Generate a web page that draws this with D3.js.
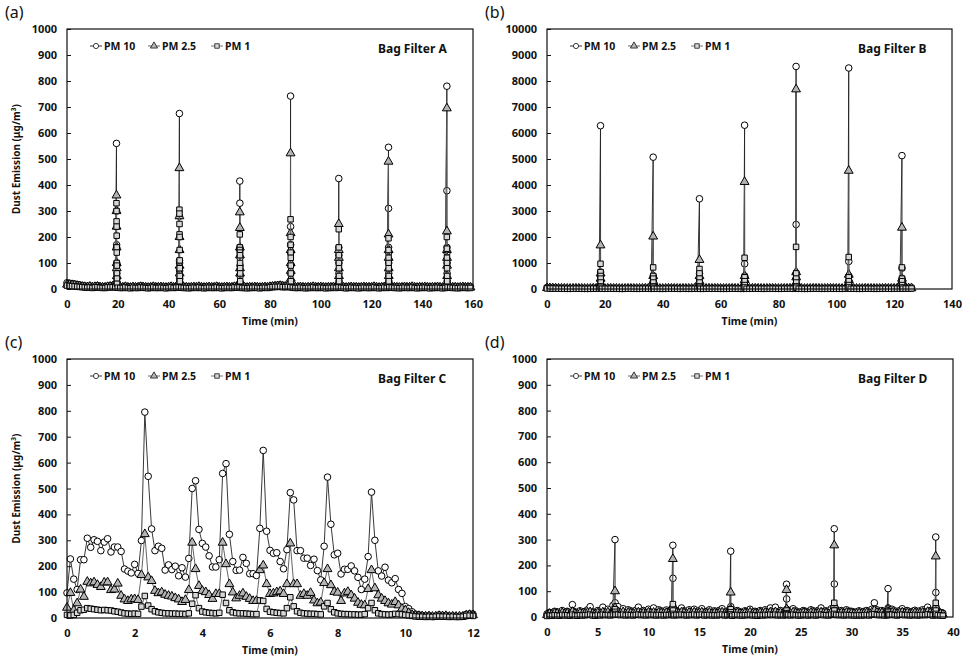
<!DOCTYPE html>
<html>
<head>
<meta charset="utf-8">
<script src="https://cdnjs.cloudflare.com/ajax/libs/d3/7.8.5/d3.min.js"></script>
<style>
  body { margin: 0; background: #fff; }
  text { font-family: "Noto Sans", sans-serif; fill: #111; }
</style>
</head>
<body>
<script>
// ---------- shared labels / ticks ----------
const seriesNames = ["PM 10", "PM 2.5", "PM 1"];
const xTicksA = [0, 20, 40, 60, 80, 100, 120, 140, 160];
const xTicksB = [0, 20, 40, 60, 80, 100, 120, 140];
const xTicksC = [0, 2, 4, 6, 8, 10, 12];
const xTicksD = [0, 5, 10, 15, 20, 25, 30, 35, 40];
const yTicks1000 = [0, 100, 200, 300, 400, 500, 600, 700, 800, 900, 1000];
const yTicks10000 = [0, 1000, 2000, 3000, 4000, 5000, 6000, 7000, 8000, 9000, 10000];

// ---------- Bag Filter A (baseline every 1 min + cleaning pulses) ----------
const stepA = 1;
const pm10BaseA = [24, 22, 21, 19, 17, 15, 13, 11, 10, 12, 9, 11, 13, 10, 8, 9, 11, 12, 14, 12,
  10, 9, 8, 11, 9, 7, 10, 8, 9, 12, 10, 8, 7, 9, 11, 8, 9, 10, 8, 7,
  9, 11, 8, 10, 12, 10, 8, 9, 7, 8, 10, 9, 11, 8, 7, 9, 10, 8, 9, 11,
  8, 7, 9, 10, 8, 9, 11, 10, 12, 9, 8, 7, 9, 8, 10, 9, 7, 8, 10, 9,
  11, 12, 14, 15, 16, 14, 13, 15, 12, 10, 9, 8, 10, 9, 7, 8, 9, 11, 8, 9,
  10, 8, 7, 9, 8, 10, 9, 11, 10, 8, 7, 9, 10, 8, 9, 7, 8, 10, 9, 8,
  9, 11, 8, 7, 9, 10, 8, 12, 10, 9, 8, 7, 9, 10, 8, 9, 11, 8, 7, 9,
  8, 10, 9, 7, 8, 9, 10, 8, 7, 9, 11, 10, 8, 9, 7, 8, 10, 9, 8, 9];
const pm25BaseA = [17, 16, 15, 14, 12, 11, 9, 8, 7, 9, 6, 8, 9, 7, 6, 6, 8, 9, 10, 9,
  7, 6, 6, 8, 6, 5, 7, 6, 6, 8, 7, 6, 5, 6, 8, 6, 6, 7, 6, 5,
  6, 8, 6, 7, 8, 7, 6, 6, 5, 6, 7, 6, 8, 6, 5, 6, 7, 6, 6, 8,
  6, 5, 6, 7, 6, 6, 8, 7, 8, 6, 6, 5, 6, 6, 7, 6, 5, 6, 7, 6,
  8, 9, 10, 11, 12, 10, 9, 11, 9, 7, 6, 6, 7, 6, 5, 6, 6, 8, 6, 6,
  7, 6, 5, 6, 6, 7, 6, 8, 7, 6, 5, 6, 7, 6, 6, 5, 6, 7, 6, 6,
  6, 8, 6, 5, 6, 7, 6, 8, 7, 6, 6, 5, 6, 7, 6, 6, 8, 6, 5, 6,
  6, 7, 6, 5, 6, 6, 7, 6, 5, 6, 8, 7, 6, 6, 5, 6, 7, 6, 6, 6];
const pm1BaseA = [13, 12, 11, 10, 9, 8, 7, 6, 5, 6, 4, 6, 7, 5, 4, 4, 6, 6, 7, 6,
  5, 4, 4, 6, 4, 3, 5, 4, 4, 6, 5, 4, 3, 4, 6, 4, 4, 5, 4, 3,
  4, 6, 4, 5, 6, 5, 4, 4, 3, 4, 5, 4, 6, 4, 3, 4, 5, 4, 4, 6,
  4, 3, 4, 5, 4, 4, 6, 5, 6, 4, 4, 3, 4, 4, 5, 4, 3, 4, 5, 4,
  6, 7, 8, 8, 9, 7, 7, 8, 7, 5, 4, 4, 5, 4, 3, 4, 4, 6, 4, 4,
  5, 4, 3, 4, 4, 5, 4, 6, 5, 4, 3, 4, 5, 4, 4, 3, 4, 5, 4, 4,
  4, 6, 4, 3, 4, 5, 4, 6, 5, 4, 4, 3, 4, 5, 4, 4, 6, 4, 3, 4,
  4, 5, 4, 3, 4, 4, 5, 4, 3, 4, 6, 5, 4, 4, 3, 4, 5, 4, 4, 4];
const spikeTimesA = [19.5, 44.3, 68.1, 88.1, 107.1, 126.7, 149.7];
const pm10SpikesA = [
  [560, 300, 170, 160, 100, 90, 60, 40, 25],
  [675, 280, 110, 100, 70, 40, 25],
  [415, 330, 160, 150, 120, 90, 50, 25],
  [742, 240, 170, 140, 90, 60, 30],
  [425, 160, 130, 100, 60, 30],
  [545, 310, 160, 140, 100, 60, 30],
  [780, 378, 160, 140, 100, 60, 30]];
const pm25SpikesA = [
  [360, 300, 240, 160, 100, 80, 50, 30],
  [465, 280, 200, 150, 90, 60, 30],
  [295, 235, 160, 130, 80, 60, 30],
  [522, 215, 150, 100, 70, 40],
  [250, 150, 120, 80, 50, 25],
  [490, 210, 150, 120, 80, 50, 25],
  [695, 222, 150, 120, 90, 50, 25]];
const pm1SpikesA = [
  [330, 300, 260, 240, 205, 160, 140, 100, 90, 60, 40, 20],
  [305, 290, 250, 210, 200, 150, 110, 80, 50, 30],
  [210, 160, 150, 140, 130, 100, 80, 60, 30],
  [268, 200, 170, 140, 120, 90, 60, 30],
  [230, 160, 130, 100, 80, 50, 30],
  [195, 150, 120, 100, 80, 50, 30],
  [200, 155, 120, 100, 80, 50, 30]];

// ---------- Bag Filter B ----------
const stepB = 1;
const pm10BaseB = [60, 52, 45, 38, 32, 28, 26, 22, 21, 25, 30, 27, 24, 20, 19, 23, 35, 29, 27, 25,
  22, 26, 31, 28, 26, 21, 18, 22, 29, 26, 24, 20, 22, 27, 33, 28, 21, 23, 26, 20,
  19, 24, 31, 27, 28, 22, 19, 25, 24, 21, 23, 28, 25, 21, 21, 26, 30, 24, 28, 26,
  23, 20, 21, 24, 30, 26, 24, 20, 19, 23, 25, 30, 32, 28, 22, 19, 24, 27, 29, 24,
  20, 23, 26, 28, 31, 24, 27, 25, 23, 19, 21, 24, 29, 27, 26, 21, 22, 25, 31, 26,
  24, 22, 20, 25, 29, 26, 27, 23, 20, 22, 29, 25, 24, 21, 20, 23, 27, 30, 27, 24,
  31, 29, 27, 33, 40, 46, 50];
const pm25BaseB = [38, 33, 28, 24, 20, 18, 16, 14, 13, 16, 19, 17, 15, 12, 12, 14, 22, 18, 17, 16,
  14, 16, 19, 17, 16, 13, 11, 14, 18, 16, 15, 12, 14, 17, 20, 17, 13, 14, 16, 12,
  12, 15, 19, 17, 17, 14, 12, 16, 15, 13, 14, 17, 16, 13, 13, 16, 19, 15, 17, 16,
  14, 12, 13, 15, 19, 16, 15, 12, 12, 14, 16, 19, 20, 17, 14, 12, 15, 17, 18, 15,
  12, 14, 16, 17, 19, 15, 17, 16, 14, 12, 13, 15, 18, 17, 16, 13, 14, 16, 19, 16,
  15, 14, 12, 16, 18, 16, 17, 14, 12, 14, 18, 16, 15, 13, 12, 14, 17, 19, 17, 15,
  19, 18, 17, 20, 25, 29, 31];
const pm1BaseB = [24, 21, 18, 15, 13, 11, 10, 9, 8, 10, 12, 11, 10, 8, 8, 9, 14, 12, 11, 10,
  9, 10, 12, 11, 10, 8, 7, 9, 12, 10, 10, 8, 9, 11, 13, 11, 8, 9, 10, 8,
  8, 10, 12, 11, 11, 9, 8, 10, 10, 8, 9, 11, 10, 8, 8, 10, 12, 10, 11, 10,
  9, 8, 8, 10, 12, 10, 10, 8, 8, 9, 10, 12, 13, 11, 9, 8, 10, 11, 12, 10,
  8, 9, 10, 11, 12, 10, 11, 10, 9, 8, 8, 10, 12, 11, 10, 8, 9, 10, 12, 10,
  10, 9, 8, 10, 12, 10, 11, 9, 8, 9, 12, 10, 10, 8, 8, 9, 11, 12, 11, 10,
  12, 12, 11, 13, 16, 18, 20];
const spikeTimesB = [18.5, 36.7, 52.7, 68.3, 86.1, 104.3, 122.7];
const pm10SpikesB = [
  [6280, 650, 500, 300, 150, 60],
  [5070, 500, 300, 150, 60],
  [3470, 600, 400, 200, 80],
  [6300, 970, 500, 300, 150, 60],
  [8560, 2480, 600, 400, 200, 80],
  [8500, 1060, 500, 300, 150, 60],
  [5130, 800, 400, 250, 120, 50]];
const pm25SpikesB = [
  [1680, 600, 400, 200, 80],
  [2020, 500, 300, 150, 60],
  [1120, 500, 300, 150, 60],
  [4120, 500, 350, 200, 80],
  [7680, 650, 450, 250, 100],
  [4550, 550, 350, 200, 80],
  [2360, 400, 300, 150, 60]];
const pm1SpikesB = [
  [970, 650, 500, 400, 250, 100, 50],
  [830, 500, 400, 250, 100, 50],
  [770, 600, 400, 250, 100, 50],
  [1200, 450, 300, 150, 60],
  [1620, 600, 400, 250, 100, 50],
  [1230, 450, 300, 150, 60],
  [830, 400, 300, 150, 60]];

// ---------- Bag Filter C (one reading every 0.1 min) ----------
const stepC = 0.1;
const pm10C = [97, 228, 150, 110, 225, 225, 308, 273, 302, 296,
  260, 293, 306, 255, 274, 274, 257, 189, 181, 174,
  207, 172, 299, 795, 547, 344, 260, 277, 269, 185,
  205, 187, 200, 163, 194, 158, 230, 500, 530, 342,
  288, 274, 240, 197, 197, 225, 558, 596, 323, 218,
  184, 185, 234, 211, 171, 171, 164, 346, 647, 335,
  261, 250, 252, 218, 190, 264, 484, 456, 260, 260,
  231, 231, 203, 227, 183, 147, 277, 544, 362, 244,
  250, 170, 188, 188, 201, 182, 157, 110, 150, 237,
  486, 300, 182, 162, 196, 146, 136, 152, 110, 95,
  44, 36, 24, 15, 12, 10, 8, 9, 6, 8,
  12, 9, 10, 7, 8, 6, 7, 8, 14, 16, 15];
const pm25C = [40, 97, 30, 57, 110, 82, 140, 134, 138, 128,
  120, 137, 138, 108, 110, 133, 86, 72, 66, 72,
  73, 70, 166, 324, 157, 143, 105, 96, 99, 90,
  86, 83, 77, 72, 62, 70, 108, 291, 189, 124,
  105, 100, 89, 74, 93, 93, 291, 208, 131, 99,
  76, 86, 95, 82, 74, 66, 66, 185, 203, 131,
  93, 95, 100, 103, 93, 131, 288, 131, 131, 86,
  93, 86, 97, 68, 57, 60, 135, 189, 127, 101,
  98, 66, 95, 101, 88, 75, 59, 51, 49, 112,
  185, 115, 88, 75, 66, 57, 52, 62, 49, 36,
  30, 20, 12, 9, 8, 7, 6, 7, 5, 6,
  8, 7, 8, 5, 6, 5, 6, 6, 10, 12, 11];
const pm1C = [12, 10, 12, 20, 30, 32, 38, 36, 34, 32,
  30, 31, 30, 29, 26, 24, 21, 18, 17, 16,
  17, 16, 44, 85, 48, 34, 26, 22, 20, 18,
  18, 17, 17, 16, 16, 15, 18, 55, 88, 38,
  25, 22, 20, 19, 18, 20, 90, 58, 30, 22,
  19, 18, 18, 17, 16, 15, 15, 68, 66, 35,
  24, 22, 20, 19, 18, 38, 80, 45, 26, 20,
  18, 17, 16, 16, 15, 14, 45, 58, 34, 22,
  18, 16, 15, 15, 14, 14, 13, 13, 15, 38,
  58, 30, 18, 15, 14, 13, 14, 16, 15, 14,
  12, 10, 8, 6, 5, 5, 4, 5, 4, 5,
  6, 5, 5, 4, 5, 4, 4, 5, 8, 9, 8];

// ---------- Bag Filter D (baseline every 0.25 min + pulses) ----------
const stepD = 0.25;
const pm10BaseD = [12, 18, 15, 22, 20, 14, 25, 18, 22, 16, 48, 20, 15, 24, 18, 22, 28, 40, 20, 17,
  25, 19, 38, 22, 30, 18, 45, 28, 40, 22, 32, 18, 28, 24, 20, 26, 38, 21, 25, 19,
  30, 22, 35, 18, 28, 24, 20, 27, 22, 30, 18, 25, 21, 35, 24, 19, 28, 22, 30, 20,
  25, 32, 19, 22, 28, 18, 24, 20, 26, 32, 19, 23, 28, 17, 22, 25, 20, 18, 24, 21,
  30, 19, 22, 17, 25, 20, 28, 22, 35, 24, 38, 20, 25, 18, 22, 26, 20, 32, 24, 19,
  20, 25, 22, 18, 28, 24, 20, 26, 35, 22, 24, 19, 32, 25, 28, 21, 25, 20, 28, 23,
  22, 18, 20, 24, 18, 22, 25, 20, 30, 55, 28, 22, 25, 20, 22, 26, 30, 24, 19, 25,
  32, 22, 25, 19, 22, 26, 20, 24, 28, 22, 38, 25, 20, 24, 22, 18, 15];
const pm25BaseD = [8, 12, 10, 14, 13, 9, 16, 12, 14, 10, 20, 13, 10, 15, 12, 14, 17, 19, 13, 11,
  16, 12, 18, 14, 18, 12, 20, 17, 19, 14, 19, 12, 17, 15, 13, 16, 18, 14, 16, 12,
  18, 14, 17, 12, 17, 15, 13, 16, 14, 18, 12, 16, 14, 18, 15, 12, 17, 14, 18, 13,
  16, 18, 12, 14, 17, 12, 15, 13, 16, 18, 12, 14, 17, 11, 14, 16, 13, 12, 15, 14,
  18, 12, 14, 11, 16, 13, 17, 14, 18, 15, 19, 13, 16, 12, 14, 16, 13, 18, 15, 12,
  13, 16, 14, 12, 17, 15, 13, 16, 18, 14, 15, 12, 18, 16, 17, 14, 16, 13, 17, 15,
  14, 12, 13, 15, 12, 14, 16, 13, 18, 25, 17, 14, 16, 13, 14, 16, 18, 15, 12, 16,
  18, 14, 16, 12, 14, 16, 13, 15, 17, 14, 20, 16, 13, 15, 14, 12, 10];
const pm1BaseD = [4, 6, 5, 7, 6, 5, 8, 6, 7, 5, 9, 6, 5, 7, 6, 7, 8, 9, 6, 5,
  8, 6, 9, 7, 8, 6, 9, 8, 9, 7, 9, 6, 8, 7, 6, 8, 9, 7, 8, 6,
  9, 7, 8, 6, 8, 7, 6, 8, 7, 9, 6, 8, 7, 9, 7, 6, 8, 7, 9, 6,
  8, 9, 6, 7, 8, 6, 7, 6, 8, 9, 6, 7, 8, 5, 7, 8, 6, 6, 7, 7,
  9, 6, 7, 5, 8, 6, 8, 7, 9, 7, 9, 6, 8, 6, 7, 8, 6, 9, 7, 6,
  6, 8, 7, 6, 8, 7, 6, 8, 9, 7, 7, 6, 9, 8, 8, 7, 8, 6, 8, 7,
  7, 6, 6, 7, 6, 7, 8, 6, 9, 11, 8, 7, 8, 6, 7, 8, 9, 7, 6, 8,
  9, 7, 8, 6, 7, 8, 6, 7, 8, 7, 10, 8, 6, 7, 7, 6, 5];
const spikeTimesD = [6.7, 12.4, 18.1, 23.6, 28.3, 33.6, 38.3];
const pm10SpikesD = [[300, 55, 40], [278, 150, 40], [255, 40, 25], [127, 70, 30],
  [342, 128, 40], [110, 35, 25], [310, 95, 40]];
const pm25SpikesD = [[100, 35, 20], [225, 40, 20], [95, 30, 15], [105, 30, 15],
  [278, 45, 20], [30, 20, 12], [235, 40, 20]];
const pm1SpikesD = [[30, 20, 12], [50, 25, 12], [30, 18, 10], [25, 15, 10],
  [55, 25, 12], [20, 12, 8], [55, 25, 12]];

// merges a regular baseline record with the short cleaning pulses
function buildSeries(step, base, spikeTimes, spikeVals, burstDt) {
  const pts = base.map((v, i) => ({ t: i * step, v: v }));
  if (spikeTimes) {
    spikeTimes.forEach((t0, k) => {
      spikeVals[k].forEach((v, j) => pts.push({ t: t0 + j * burstDt, v: v }));
    });
  }
  return pts.sort((a, b) => a.t - b.t);
}

const panels = [
  { letter: "(a)", name: "Bag Filter A", left: 67, top: 29, right: 473, bottom: 289,
    xMax: 160, xTicks: xTicksA, yMax: 1000, yTicks: yTicks1000, yTitle: true,
    series: [buildSeries(stepA, pm10BaseA, spikeTimesA, pm10SpikesA, 0.02),
             buildSeries(stepA, pm25BaseA, spikeTimesA, pm25SpikesA, 0.02),
             buildSeries(stepA, pm1BaseA, spikeTimesA, pm1SpikesA, 0.02)] },
  { letter: "(b)", name: "Bag Filter B", left: 547, top: 29, right: 952, bottom: 289,
    xMax: 140, xTicks: xTicksB, yMax: 10000, yTicks: yTicks10000, yTitle: false,
    series: [buildSeries(stepB, pm10BaseB, spikeTimesB, pm10SpikesB, 0.02),
             buildSeries(stepB, pm25BaseB, spikeTimesB, pm25SpikesB, 0.02),
             buildSeries(stepB, pm1BaseB, spikeTimesB, pm1SpikesB, 0.02)] },
  { letter: "(c)", name: "Bag Filter C", left: 67, top: 359, right: 473, bottom: 618,
    xMax: 12, xTicks: xTicksC, yMax: 1000, yTicks: yTicks1000, yTitle: true,
    series: [buildSeries(stepC, pm10C), buildSeries(stepC, pm25C), buildSeries(stepC, pm1C)] },
  { letter: "(d)", name: "Bag Filter D", left: 547, top: 359, right: 953, bottom: 617,
    xMax: 40, xTicks: xTicksD, yMax: 1000, yTicks: yTicks1000, yTitle: false,
    series: [buildSeries(stepD, pm10BaseD, spikeTimesD, pm10SpikesD, 0.01),
             buildSeries(stepD, pm25BaseD, spikeTimesD, pm25SpikesD, 0.01),
             buildSeries(stepD, pm1BaseD, spikeTimesD, pm1SpikesD, 0.01)] }
];

const styles = [
  { shape: "circle", fill: "#ffffff", line: "#222" },
  { shape: "triangle", fill: "#b4b4b4", line: "#555" },
  { shape: "square", fill: "#d8d8d8", line: "#666" }
];

function addMarker(sel, shape, x, y, small) {
  if (shape === "circle") {
    return sel.append("circle").attr("cx", x).attr("cy", y).attr("r", small ? 2.6 : 3.3);
  }
  const sym = shape === "triangle" ? d3.symbolTriangle : d3.symbolSquare;
  const size = shape === "triangle" ? (small ? 22 : 34) : (small ? 20 : 30);
  return sel.append("path")
    .attr("d", d3.symbol(sym, size)())
    .attr("transform", `translate(${x},${y})`);
}

function main() {
  const svg = d3.select("body").append("svg")
    .attr("width", 964)
    .attr("height", 662);

  panels.forEach(p => {
    const x = d3.scaleLinear().domain([0, p.xMax]).range([p.left, p.right]);
    const y = d3.scaleLinear().domain([0, p.yMax]).range([p.bottom, p.top]);
    const g = svg.append("g");

    // axes
    const xa = g.append("g").attr("transform", `translate(0,${p.bottom})`)
      .call(d3.axisBottom(x).tickValues(p.xTicks).tickFormat(d3.format("d"))
        .tickSize(0).tickPadding(11));
    const ya = g.append("g").attr("transform", `translate(${p.left},0)`)
      .call(d3.axisLeft(y).tickValues(p.yTicks).tickFormat(d3.format("d"))
        .tickSize(-4).tickPadding(10));
    [xa, ya].forEach(a => {
      a.select(".domain").remove();
      a.selectAll("text").style("font-family", '"Noto Sans", sans-serif')
        .style("font-size", "11px").style("font-weight", "bold").attr("fill", "#111");
      a.selectAll("line").attr("stroke", "#111");
    });

    // series: PM10, PM2.5, PM1 (last on top)
    p.series.forEach((pts, si) => {
      const st = styles[si];
      g.append("path")
        .datum(pts)
        .attr("fill", "none")
        .attr("stroke", st.line)
        .attr("stroke-width", 0.9)
        .attr("d", d3.line().x(d => x(d.t)).y(d => y(d.v)));
      const mg = g.append("g").attr("fill", st.fill).attr("stroke", "#000").attr("stroke-width", 1);
      pts.forEach(d => addMarker(mg, st.shape, x(d.t), y(d.v), false));
    });

    // frame
    g.append("rect")
      .attr("x", p.left).attr("y", p.top)
      .attr("width", p.right - p.left).attr("height", p.bottom - p.top)
      .attr("fill", "none").attr("stroke", "#111").attr("stroke-width", 1.2);

    // legend
    const legX = [p.left + 23, p.left + 81, p.left + 144];
    const legY = p.top + 17;
    seriesNames.forEach((nm, i) => {
      const st = styles[i];
      g.append("line").attr("x1", legX[i]).attr("x2", legX[i] + 12)
        .attr("y1", legY).attr("y2", legY).attr("stroke", st.line).attr("stroke-width", 0.9);
      addMarker(g, st.shape, legX[i] + 6, legY, true)
        .attr("fill", st.fill).attr("stroke", "#111").attr("stroke-width", 0.8);
      g.append("text").attr("x", legX[i] + 14).attr("y", legY + 4)
        .style("font-size", "10.5px").style("font-weight", "bold").text(nm);
    });

    g.append("text").attr("x", p.left + 311).attr("y", p.top + 24)
      .style("font-size", "12px").style("font-weight", "bold").text(p.name);

    // titles
    g.append("text").attr("x", (p.left + p.right) / 2).attr("y", p.bottom + 36)
      .attr("text-anchor", "middle").style("font-size", "10.5px").style("font-weight", "bold")
      .text("Time (min)");
    if (p.yTitle) {
      g.append("text")
        .attr("transform", `translate(20,${(p.top + p.bottom) / 2}) rotate(-90)`)
        .attr("text-anchor", "middle").style("font-size", "10px").style("font-weight", "bold")
        .text("Dust Emission (μg/m³)");
    }
    g.append("text").attr("x", p.left - 62).attr("y", p.top - 11)
      .style("font-size", "16px").text(p.letter);
  });
}

main();
</script>
</body>
</html>
